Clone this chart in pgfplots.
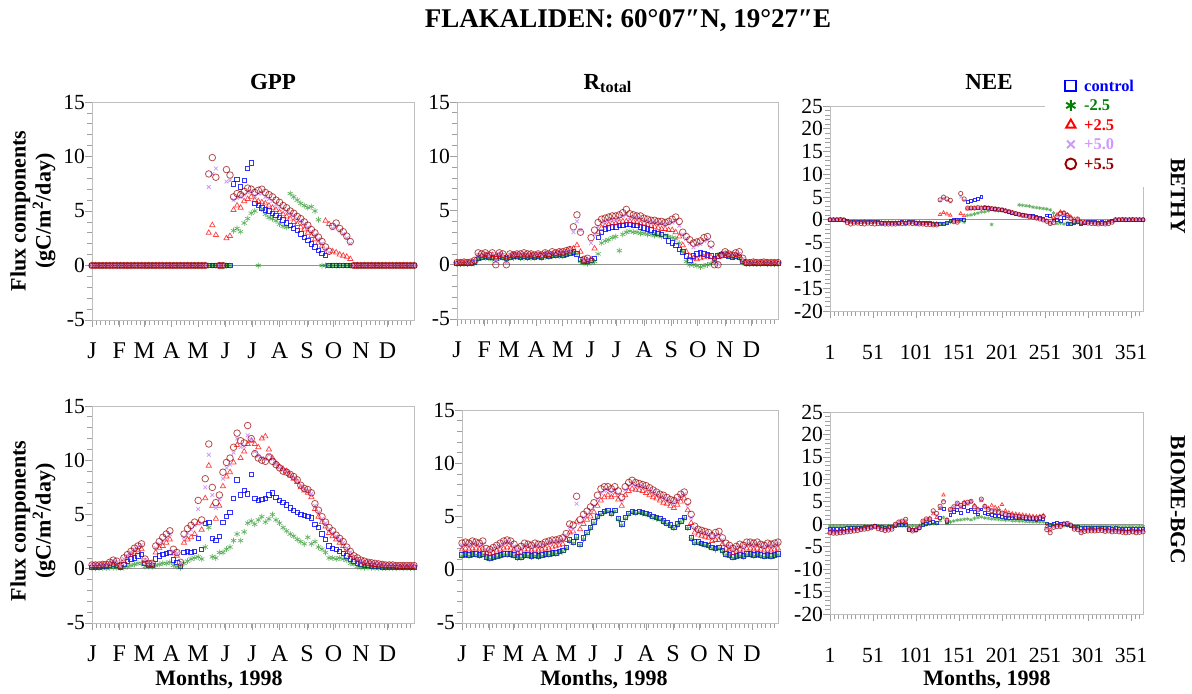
\documentclass[border=0pt]{standalone}
\usepackage{fontspec}
\setmainfont{Liberation Serif}
\usepackage{pgfplots}
\usepackage{pgfplotstable}
\pgfplotsset{compat=1.18}

\definecolor{ctrlblue}{RGB}{0,0,255}
\definecolor{coolgreen}{RGB}{0,128,0}
\definecolor{warmred}{RGB}{255,0,0}
\definecolor{lavenderx}{RGB}{204,153,255}
\definecolor{darkredo}{RGB}{153,0,0}

% d = day of year; c = control; m = -2.5; p = +2.5; q = +5.0; r = +5.5
\pgfplotstableread{
d c m p q r
1 0 0 0 0 0
5 0 0 0 0 0
9 0 0 0 0 0
13 0 0 0 0 0
17 0 0 0 0 0
21 0 0 0 0 0
25 0 0 0 0 0
29 0 0 0 0 0
33 0 0 0 0 0
37 0 0 0 0 0
41 0 0 0 0 0
45 0 0 0 0 0
49 0 0 0 0 0
53 0 0 0 0 0
57 0 0 0 0 0
61 0 0 0 0 0
65 0 0 0 0 0
69 0 0 0 0 0
73 0 0 0 0 0
77 0 0 0 0 0
81 0 0 0 0 0
85 0 0 0 0 0
89 0 0 0 0 0
93 0 0 0 0 0
97 0 0 0 0 0
101 0 0 0 0 0
105 0 0 0 0 0
109 0 0 0 0 0
113 0 0 0 0 0
117 0 0 0 0 0
121 0 0 0 0 0
125 0 0 0 0 0
129 0 0 0 0 0
133 0 0 3.0 7.2 8.4
137 0 0 3.7 8.4 9.9
141 0 0 2.8 8.9 8.1
145 0 0 0 0 0
149 0 0 0 0 0
153 0 0 2.5 7.7 8.8
157 0 0 2.7 7.8 8.3
161 7.5 3.2 5.1 6.0 6.3
165 7.9 3.4 5.5 6.2 6.6
169 7.2 3.1 5.3 6.3 6.5
173 7.8 3.9 5.9 6.5 6.8
177 8.9 4.3 6.1 6.7 7.1
181 9.4 4.8 6.3 6.8 7.0
185 5.7 5.0 6.0 6.4 6.7
189 5.5 0 5.9 6.6 6.9
193 5.3 5.2 5.8 6.6 7.0
197 5.1 4.7 5.7 6.3 6.7
201 5.0 4.4 5.5 6.1 6.5
205 4.8 4.3 5.3 5.9 6.3
209 4.6 4.1 5.1 5.6 6.0
213 4.4 3.8 4.9 5.4 5.8
217 4.2 3.6 4.7 5.2 5.5
221 3.9 3.5 4.5 5.0 5.3
225 3.7 6.6 4.3 4.8 5.0
229 3.4 6.3 4.0 4.6 4.8
233 3.2 6.0 3.8 4.3 4.5
237 2.9 5.7 3.5 4.1 4.3
241 2.6 5.5 3.3 3.8 4.0
245 2.3 5.3 3.0 3.5 3.7
249 2.0 5.4 2.7 3.1 3.3
253 1.7 5.0 2.4 2.8 3.0
257 1.4 4.2 2.1 2.4 2.6
261 1.1 0 1.8 2.0 2.2
265 0.9 0 4.1 1.5 1.7
269 0 0 3.8 1.2 1.3
273 0 0 1.3 3.4 3.6
277 0 0 1.2 3.6 3.9
281 0 0 1.0 3.2 3.4
285 0 0 0.9 2.9 3.1
289 0 0 0.8 2.5 2.7
293 0 0 0.6 2.0 2.2
297 0 0 0 0 0
301 0 0 0 0 0
305 0 0 0 0 0
309 0 0 0 0 0
313 0 0 0 0 0
317 0 0 0 0 0
321 0 0 0 0 0
325 0 0 0 0 0
329 0 0 0 0 0
333 0 0 0 0 0
337 0 0 0 0 0
341 0 0 0 0 0
345 0 0 0 0 0
349 0 0 0 0 0
353 0 0 0 0 0
357 0 0 0 0 0
361 0 0 0 0 0
365 0 0 0 0 0
}\gppbethy

\pgfplotstableread{
d c m p q r
1 0.1 0.05 0.15 0.15 0.2
5 0.1 0.05 0.15 0.2 0.2
9 0.15 0.05 0.2 0.2 0.25
13 0.1 0.05 0.15 0.15 0.2
17 0.15 0.1 0.2 0.2 0.25
21 0.2 0.1 0.3 0.3 0.4
25 0.6 0.5 0.8 0.9 1.1
29 0.7 0.6 0.8 0.9 1.0
33 0.8 0.6 0.9 1.0 1.1
37 0.7 0.6 0.8 0.8 0.9
41 0.7 0.5 0.9 1.0 1.1
45 0.6 0.5 0.7 0.3 0.0
49 0.8 0.6 0.9 1.0 1.1
53 0.7 0.6 0.8 0.9 1.0
57 0.6 0.5 0.7 0.2 0.0
61 0.7 0.6 0.8 0.9 1.0
65 0.8 0.6 0.9 0.9 0.9
69 0.8 0.7 0.9 1.0 1.0
73 0.7 0.6 0.8 0.9 1.0
77 0.8 0.6 0.9 1.0 1.1
81 0.7 0.6 0.8 0.9 1.0
85 0.8 0.6 0.9 0.9 1.0
89 0.7 0.6 0.8 0.9 0.9
93 0.8 0.7 0.9 1.0 1.0
97 0.7 0.6 0.8 0.8 0.9
101 0.9 0.7 1.0 1.0 1.1
105 0.8 0.7 0.9 1.0 1.0
109 0.9 0.8 1.0 1.1 1.2
113 0.9 0.8 1.0 1.0 1.1
117 1.0 0.8 1.1 1.1 1.2
121 0.9 0.8 1.0 1.2 1.2
125 1.0 0.9 1.2 1.2 1.3
129 1.1 1.0 1.4 1.3 1.4
133 1.2 1.1 1.5 3.0 3.5
137 1.0 1.0 1.8 4.0 4.6
141 0.5 0.3 1.2 3.2 3.0
145 0.3 0.1 0.4 0.4 0.5
149 0.3 0.1 0.4 0.5 0.6
153 0.4 0.2 0.5 2.0 2.5
157 0.6 0.3 1.5 2.8 3.2
161 2.5 1.0 3.0 3.5 3.9
165 3.0 2.0 3.4 3.9 4.2
169 3.3 2.2 3.6 4.0 4.3
173 3.4 2.3 3.7 4.1 4.4
177 3.5 2.5 3.8 4.2 4.5
181 3.5 2.6 3.8 4.2 4.5
185 3.6 1.3 3.9 4.3 4.6
189 3.6 2.8 4.0 4.5 4.8
193 3.7 3.0 4.0 4.6 5.1
197 3.7 3.1 4.0 4.4 4.7
201 3.6 3.0 4.0 4.4 4.6
205 3.6 3.0 3.9 4.3 4.5
209 3.5 2.9 3.8 4.2 4.5
213 3.4 2.9 3.8 4.1 4.3
217 3.3 2.8 3.7 4.0 4.2
221 3.2 2.8 3.6 3.9 4.1
225 3.0 2.7 3.5 3.9 4.1
229 2.9 2.7 3.4 3.8 4.0
233 2.8 2.6 3.3 3.8 4.0
237 2.6 2.7 3.3 3.7 3.9
241 2.2 2.6 3.2 3.8 4.0
245 2.0 2.5 3.2 3.9 4.2
249 1.8 2.4 3.0 4.0 4.4
253 1.4 2.0 2.6 3.6 4.0
257 1.2 1.2 1.8 2.8 3.0
261 0.8 0.3 1.2 2.4 2.6
265 0.4 0.0 0.8 2.0 2.3
269 0.8 0.0 0.6 1.6 2.0
273 1.0 -0.1 0.5 1.8 2.1
277 1.1 -0.2 0.6 1.9 2.2
281 1.0 -0.1 0.7 2.2 2.5
285 0.9 0.0 0.8 2.3 2.6
289 0.8 0.1 0.7 1.6 1.9
293 0.6 0.3 0.4 0.2 0.0
297 0.8 0.9 0.7 0.1 0.0
301 0.9 1.0 0.9 0.8 0.9
305 0.9 1.1 1.0 1.1 1.2
309 0.8 0.8 0.9 0.9 1.0
313 0.7 0.7 0.8 0.9 0.9
317 0.8 0.8 0.9 1.0 1.1
321 0.7 0.6 0.8 1.0 1.2
325 0.3 0.2 0.4 0.5 0.6
329 0.1 0.05 0.15 0.2 0.2
333 0.1 0.05 0.15 0.15 0.2
337 0.15 0.05 0.2 0.2 0.25
341 0.1 0.05 0.15 0.2 0.2
345 0.1 0.05 0.15 0.15 0.2
349 0.15 0.1 0.2 0.2 0.25
353 0.1 0.05 0.15 0.2 0.2
357 0.1 0.05 0.15 0.15 0.2
361 0.1 0.05 0.15 0.2 0.2
365 0.1 0.05 0.15 0.15 0.2
}\rtotbethy

\pgfplotstableread{
d c m p q r
1 0.05 0.05 0.05 0.05 0.05
5 0.05 0 0.05 0.05 0.05
9 0 0 0.05 0.05 0.05
13 0.05 0 0.05 0.05 0.1
17 0 0 0 0 0
21 -0.3 -0.2 -0.4 -0.5 -0.6
25 -0.5 -0.4 -0.6 -0.7 -0.9
29 -0.4 -0.3 -0.5 -0.6 -0.7
33 -0.5 -0.4 -0.6 -0.6 -0.7
37 -0.4 -0.4 -0.5 -0.6 -0.8
41 -0.5 -0.3 -0.6 -0.7 -0.9
45 -0.5 -0.4 -0.6 -0.6 -0.7
49 -0.4 -0.4 -0.5 -0.6 -0.8
53 -0.5 -0.4 -0.6 -0.7 -0.9
57 -0.5 -0.4 -0.6 -0.7 -0.8
61 -0.6 -0.5 -0.6 -0.7 -0.8
65 -0.6 -0.5 -0.7 -0.8 -0.9
69 -0.6 -0.5 -0.7 -0.8 -0.9
73 -0.7 -0.5 -0.8 -0.8 -0.9
77 -0.6 -0.5 -0.7 -0.8 -0.9
81 -0.6 -0.5 -0.7 -0.7 -0.8
85 -0.5 -0.5 -0.6 -0.7 -0.8
89 -0.6 -0.5 -0.6 -0.7 -0.8
93 -0.5 -0.4 -0.6 -0.6 -0.7
97 -0.5 -0.4 -0.6 -0.7 -0.8
101 -0.6 -0.5 -0.7 -0.7 -0.8
105 -0.6 -0.5 -0.7 -0.8 -0.9
109 -0.7 -0.6 -0.8 -0.8 -0.9
113 -0.7 -0.6 -0.8 -0.9 -1.0
117 -0.7 -0.6 -0.8 -0.9 -1.0
121 -0.8 -0.7 -0.9 -1.0 -1.1
125 -0.8 -0.7 -0.9 -1.0 -1.1
129 -0.8 -0.8 1.2 4.2 4.4
133 -0.9 -0.9 1.6 4.8 5.0
137 -0.6 -0.7 1.3 4.3 4.6
141 -0.3 -0.5 1.0 3.9 4.3
145 0.0 -0.3 -0.2 -0.3 -0.4
149 0.0 -0.2 -0.3 -0.2 -0.5
153 0.1 -0.2 1.4 5.0 5.8
157 0.0 -0.5 0.9 4.3 4.6
161 4.0 1.0 2.4 2.5 2.6
165 4.2 1.1 2.5 2.6 2.6
169 4.4 1.3 2.5 2.5 2.6
173 4.7 1.5 2.5 2.6 2.7
177 5.0 1.7 2.6 2.6 2.6
181 2.6 1.8 2.6 2.6 2.7
185 2.6 2.0 2.5 2.5 2.6
189 2.5 -1.0 2.4 2.5 2.5
193 2.4 2.0 2.4 2.4 2.4
197 2.3 2.0 2.3 2.3 2.3
201 2.2 2.0 2.2 2.2 2.2
205 2.0 1.9 2.0 2.0 2.0
209 1.8 1.8 1.8 1.8 1.8
213 1.6 1.6 1.6 1.6 1.6
217 1.4 1.4 1.4 1.4 1.4
221 1.2 3.3 1.2 1.2 1.2
225 1.1 3.2 1.0 1.0 1.0
229 1.0 3.1 0.9 0.9 0.9
233 0.9 3.0 0.8 0.7 0.7
237 0.8 2.8 0.6 0.6 0.6
241 0.6 2.7 0.5 0.4 0.4
245 0.5 2.6 0.3 0.2 0.2
249 0.3 2.5 0.1 0.0 0.0
253 1.0 2.4 -0.2 -0.3 -0.3
257 0.8 2.2 -0.6 -0.8 -0.8
261 -0.1 1.5 0.5 -0.5 -0.6
265 0.0 -0.8 1.2 0.8 0.7
269 -0.2 -0.7 1.8 1.0 1.4
273 0.5 -0.9 1.6 1.2 1.5
277 -0.8 -0.6 1.2 0.6 1.0
281 -0.9 -0.8 0.7 0.1 0.3
285 -0.6 -0.7 0.2 -0.3 -0.4
289 -0.4 -0.6 0.1 0.0 0.2
293 -0.8 -0.8 -0.4 -0.5 -0.6
297 -0.6 -0.5 -0.5 -0.5 -0.6
301 -0.5 -0.5 -0.5 -0.6 -0.7
305 -0.5 -0.4 -0.6 -0.7 -0.8
309 -0.5 -0.5 -0.7 -0.7 -0.8
313 -0.6 -0.5 -0.7 -0.8 -0.9
317 -0.5 -0.5 -0.7 -0.7 -0.8
321 -0.6 -0.5 -0.7 -0.8 -0.9
325 -0.5 -0.5 -0.6 -0.7 -0.8
329 -0.3 -0.2 -0.4 -0.4 -0.5
333 0 0 0.05 0.05 0.05
337 0.05 0 0.05 0.05 0.05
341 0 0 0.05 0.05 0.1
345 0.05 0 0.05 0.05 0.05
349 0 0 0.05 0.05 0.05
353 0.05 0 0.05 0.05 0.1
357 0 0 0.05 0.05 0.05
361 0.05 0 0.05 0.05 0.05
365 0 0 0.05 0.05 0.05
}\neebethy

\pgfplotstableread{
d c m p q r
1 0.15 0.05 0.25 0.3 0.35
5 0.15 0.05 0.25 0.3 0.35
9 0.15 0.05 0.25 0.3 0.35
13 0.2 0.05 0.3 0.35 0.4
17 0.2 0.05 0.3 0.35 0.4
21 0.3 0.1 0.45 0.55 0.6
25 0.4 0.1 0.55 0.7 0.8
29 0.3 0.1 0.45 0.6 0.7
33 0.1 0.05 0.2 0.25 0.3
37 0.4 0.1 0.7 0.9 1.0
41 0.7 0.2 1.0 1.2 1.3
45 0.9 0.3 1.3 1.5 1.6
49 1.0 0.4 1.5 1.8 1.9
53 1.2 0.5 1.7 2.0 2.1
57 1.3 0.5 1.8 2.2 2.3
61 0.5 0.2 0.7 0.8 0.9
65 0.3 0.2 0.4 0.5 0.5
69 0.3 0.2 0.4 0.5 0.5
73 0.9 0.3 1.5 1.9 2.1
77 1.2 0.4 1.9 2.3 2.5
81 1.3 0.5 2.1 2.6 2.9
85 1.4 0.5 2.4 2.9 3.2
89 1.5 0.6 2.7 3.2 3.5
93 0.8 0.3 1.4 1.6 1.8
97 0.6 0.2 1.2 1.4 1.5
101 0.2 0.1 0.4 0.5 0.6
105 1.5 0.5 2.4 2.9 3.2
109 1.6 0.7 2.7 3.3 3.7
113 1.5 0.9 2.9 3.6 4.0
117 1.6 1.0 3.2 4.0 4.3
121 2.8 1.1 4.2 5.5 6.3
125 1.8 0.9 3.6 4.2 4.5
129 4.2 2.0 6.5 7.5 8.3
133 4.3 3.8 9.5 10.5 11.5
137 2.8 1.1 5.8 6.8 7.5
141 2.6 1.0 4.6 5.6 6.1
145 3.0 1.5 5.8 6.4 6.8
149 4.3 1.5 7.6 8.3 8.9
153 4.8 1.8 8.5 9.3 9.8
157 5.2 2.0 8.9 9.6 10.2
161 6.5 2.6 9.8 10.7 11.2
165 8.2 3.2 11.4 12.0 12.5
169 6.8 2.6 10.2 11.2 11.8
173 7.2 3.4 10.8 11.3 11.6
177 6.9 4.2 11.5 12.3 13.2
181 8.7 4.4 11.8 11.9 12.0
185 6.5 4.1 11.5 10.8 10.6
189 6.3 4.5 11.2 10.4 10.2
193 6.4 4.8 12.0 10.2 10.0
197 6.5 4.3 12.2 10.1 9.9
201 6.8 4.6 11.0 10.5 10.3
205 7.0 5.0 10.2 10.1 9.9
209 6.6 4.5 9.7 9.7 9.6
213 6.3 4.2 9.4 9.3 9.3
217 6.1 3.8 9.2 9.1 9.0
221 5.9 3.5 9.0 8.9 8.9
225 5.6 3.2 8.6 8.6 8.7
229 5.4 3.0 8.3 8.4 8.5
233 5.2 2.7 8.0 8.1 8.2
237 5.0 2.5 7.5 7.6 7.7
241 4.9 2.3 7.2 7.3 7.4
245 4.8 2.9 7.0 7.2 7.3
249 4.7 2.3 6.6 6.9 7.0
253 4.1 2.5 5.5 5.8 6.0
257 3.8 2.0 4.8 5.2 5.4
261 3.2 1.8 4.3 4.6 4.8
265 2.7 1.5 3.9 4.2 4.3
269 2.1 1.0 3.3 3.6 3.8
273 1.9 1.0 3.0 3.3 3.5
277 1.8 0.9 2.7 3.0 3.1
281 1.6 1.0 2.4 2.7 2.8
285 1.4 0.9 2.1 2.4 2.5
289 1.2 0.8 1.7 1.9 2.0
293 0.9 0.5 1.3 1.5 1.6
297 0.7 0.4 1.0 1.1 1.2
301 0.5 0.2 0.8 0.9 1.0
305 0.4 0.1 0.6 0.7 0.8
309 0.3 0.1 0.5 0.6 0.7
313 0.3 0.1 0.5 0.5 0.6
317 0.25 0.1 0.4 0.5 0.55
321 0.2 0.05 0.35 0.45 0.5
325 0.2 0.05 0.3 0.4 0.45
329 0.15 0.05 0.3 0.35 0.4
333 0.15 0.05 0.25 0.3 0.35
337 0.15 0.05 0.25 0.3 0.35
341 0.15 0.05 0.25 0.3 0.35
345 0.15 0.05 0.2 0.3 0.3
349 0.15 0.05 0.2 0.25 0.3
353 0.1 0.05 0.2 0.25 0.3
357 0.1 0.05 0.2 0.25 0.3
361 0.1 0.05 0.2 0.25 0.3
365 0.1 0.05 0.2 0.25 0.3
}\gppbiome

\pgfplotstableread{
d c m p q r
1 1.4 1.3 1.9 2.3 2.5
5 1.5 1.4 2.0 2.4 2.6
9 1.4 1.3 1.9 2.3 2.5
13 1.5 1.4 2.0 2.5 2.7
17 1.5 1.4 2.0 2.4 2.6
21 1.4 1.3 1.9 2.3 2.5
25 1.5 1.4 2.0 2.4 2.7
29 1.2 1.1 1.6 1.9 2.0
33 1.1 1.0 1.5 1.8 1.9
37 1.2 1.1 1.6 2.0 2.1
41 1.3 1.2 1.8 2.1 2.3
45 1.4 1.3 1.9 2.3 2.5
49 1.5 1.4 2.0 2.5 2.7
53 1.5 1.4 2.1 2.6 2.8
57 1.5 1.4 2.0 2.5 2.7
61 1.4 1.3 1.9 2.2 2.4
65 1.2 1.1 1.6 1.9 2.0
69 1.2 1.1 1.7 2.0 2.2
73 1.4 1.3 1.9 2.3 2.5
77 1.4 1.3 1.9 2.3 2.4
81 1.3 1.2 1.8 2.1 2.3
85 1.4 1.3 1.9 2.3 2.5
89 1.3 1.2 1.8 2.2 2.4
93 1.4 1.3 1.9 2.3 2.4
97 1.5 1.4 2.0 2.4 2.6
101 1.5 1.4 2.0 2.5 2.7
105 1.6 1.5 2.1 2.6 2.8
109 1.6 1.5 2.2 2.6 2.8
113 1.7 1.6 2.3 2.7 2.9
117 1.8 1.7 2.4 2.8 3.0
121 2.1 2.0 2.8 3.2 3.4
125 2.8 2.7 3.5 4.0 4.3
129 2.6 2.5 3.6 3.8 4.2
133 3.1 3.0 4.5 6.2 6.9
137 2.4 2.3 3.8 4.4 4.7
141 3.0 2.9 4.3 4.9 5.2
145 3.5 3.4 4.7 5.2 5.5
149 4.0 3.9 5.0 5.6 5.9
153 4.5 4.4 5.4 6.0 6.3
157 5.0 4.9 6.0 6.6 7.0
161 5.3 5.2 6.5 7.2 7.6
165 5.5 5.4 6.8 7.4 7.8
169 5.6 5.5 7.0 7.5 7.8
173 5.3 5.2 6.8 7.3 7.6
177 5.6 5.5 7.0 7.5 7.8
181 4.8 4.7 6.6 7.1 7.4
185 4.3 4.2 6.0 6.5 6.8
189 4.9 4.8 7.0 7.5 7.8
193 5.3 5.2 7.4 7.9 8.2
197 5.5 5.4 7.6 8.1 8.4
201 5.4 5.3 7.5 7.9 8.2
205 5.5 5.4 7.5 7.9 8.1
209 5.4 5.3 7.4 7.8 8.0
213 5.3 5.2 7.2 7.7 7.9
217 5.2 5.1 7.0 7.5 7.7
221 5.0 4.9 6.8 7.3 7.5
225 4.9 4.8 6.7 7.1 7.3
229 4.8 4.7 6.5 6.9 7.1
233 4.6 4.5 6.3 6.8 7.0
237 4.4 4.3 6.2 6.6 6.8
241 4.2 4.1 6.0 6.4 6.6
245 4.0 3.9 5.8 6.3 6.5
249 4.3 4.2 6.1 6.6 6.8
253 4.6 4.5 6.4 6.9 7.1
257 4.9 4.8 6.7 7.1 7.3
261 4.0 3.9 5.6 6.1 6.4
265 3.0 2.9 4.4 4.9 5.2
269 2.6 2.5 3.5 3.9 4.1
273 2.6 2.5 3.3 3.6 3.8
277 2.5 2.4 3.2 3.5 3.7
281 2.4 2.3 3.1 3.4 3.6
285 2.3 2.2 3.0 3.3 3.5
289 2.1 2.0 2.7 3.0 3.2
293 2.0 1.9 2.8 3.2 3.5
297 2.1 2.0 2.8 3.3 3.6
301 1.8 1.7 2.4 2.8 3.0
305 1.5 1.4 2.0 2.3 2.5
309 1.4 1.3 1.9 2.2 2.3
313 1.2 1.1 1.6 1.9 2.0
317 1.3 1.2 1.8 2.1 2.2
321 1.4 1.3 1.9 2.2 2.4
325 1.3 1.2 1.8 2.1 2.3
329 1.5 1.4 2.0 2.4 2.6
333 1.5 1.4 2.0 2.4 2.6
337 1.4 1.3 1.9 2.3 2.5
341 1.5 1.4 2.0 2.4 2.6
345 1.4 1.3 1.9 2.3 2.4
349 1.3 1.2 1.8 2.1 2.3
353 1.4 1.3 1.9 2.3 2.5
357 1.3 1.2 1.8 2.2 2.4
361 1.4 1.3 1.9 2.3 2.5
365 1.5 1.4 2.0 2.4 2.6
}\rtotbiome

\pgfplotstableread{
d c m p q r
1 -1.0 -0.4 -1.6 -1.8 -1.9
5 -1.1 -0.4 -1.7 -1.9 -2.0
9 -1.1 -0.4 -1.7 -1.9 -2.0
13 -1.0 -0.4 -1.6 -1.8 -1.9
17 -1.0 -0.4 -1.5 -1.7 -1.8
21 -0.9 -0.4 -1.4 -1.6 -1.7
25 -0.9 -0.4 -1.3 -1.5 -1.6
29 -0.8 -0.4 -1.2 -1.4 -1.5
33 -0.8 -0.4 -1.1 -1.3 -1.4
37 -0.7 -0.4 -1.0 -1.2 -1.2
41 -0.6 -0.4 -0.9 -1.0 -1.1
45 -0.6 -0.4 -0.8 -0.9 -1.0
49 -0.5 -0.4 -0.6 -0.7 -0.8
53 -0.4 -0.4 -0.4 -0.5 -0.5
57 -0.5 -0.4 -0.7 -0.9 -1.0
61 -0.6 -0.4 -1.0 -1.1 -1.2
65 -0.7 -0.4 -1.1 -1.3 -1.4
69 -0.6 -0.4 -1.0 -1.2 -1.3
73 -0.5 -0.4 -0.8 -1.0 -1.1
77 -0.3 -0.4 -0.2 -0.1 0.0
81 -0.2 -0.4 0.3 0.5 0.5
85 -0.2 -0.4 0.4 0.6 0.7
89 -0.1 -0.4 0.6 0.9 1.1
93 -1.2 -0.4 -1.0 -1.0 -1.1
97 -1.3 -0.4 -1.2 -1.4 -1.5
101 -1.2 -0.4 -1.1 -1.2 -1.3
105 -0.8 -0.3 -0.6 -0.7 -0.8
109 -0.2 -0.2 0.5 0.6 0.7
113 0.0 -0.1 0.9 1.1 1.2
117 0.3 0.0 1.3 1.3 1.2
121 0.5 0.1 2.3 2.7 3.0
125 0.3 0.1 1.5 2.0 2.4
129 1.5 0.8 3.5 3.8 4.0
133 3.5 1.5 6.5 5.3 5.0
137 0.5 0.2 1.0 1.0 0.9
141 2.0 0.5 3.0 3.2 3.3
145 2.8 0.7 3.6 3.8 3.9
149 3.2 0.9 4.4 4.6 4.7
153 2.5 1.0 3.8 4.0 4.2
157 3.8 1.1 4.9 4.8 4.7
161 3.0 1.2 4.5 4.7 4.9
165 3.3 1.0 5.0 5.0 5.1
169 2.8 1.3 4.2 4.0 3.9
173 2.2 1.5 3.4 3.3 3.2
177 3.3 1.6 5.2 5.4 5.6
181 2.5 1.4 4.0 4.0 4.0
185 2.2 1.3 3.6 3.4 3.3
189 2.0 1.2 4.2 3.2 3.0
193 1.8 1.1 3.8 3.0 2.8
197 1.8 1.1 3.5 2.9 2.7
201 1.6 1.0 4.4 2.6 2.5
205 1.5 0.9 3.0 2.3 2.2
209 1.5 0.9 2.6 2.1 2.0
213 1.4 0.8 2.4 2.0 1.9
217 1.4 0.8 2.3 1.9 1.8
221 1.3 0.7 2.2 1.8 1.7
225 1.3 0.7 2.1 1.7 1.6
229 1.2 0.6 2.0 1.6 1.5
233 1.1 0.6 1.9 1.5 1.4
237 1.1 0.5 1.8 1.5 1.4
241 1.0 0.5 1.7 1.4 1.3
245 1.1 0.5 1.8 1.6 1.5
249 1.2 0.5 2.0 1.8 1.7
253 0.2 0.1 -0.5 -1.0 -1.2
257 -0.2 -0.2 -1.2 -1.6 -1.9
261 0.0 -0.2 -0.4 -0.6 -0.7
265 0.3 -0.2 -0.2 -0.4 -0.5
269 0.0 -0.3 -0.3 -0.4 -0.5
273 0.0 -0.3 0.0 0.1 0.1
277 -0.1 -0.3 0.1 0.2 0.2
281 -0.3 -0.4 -0.2 -0.2 -0.2
285 -0.6 -0.4 -0.9 -1.0 -1.1
289 -0.6 -0.4 -1.0 -1.1 -1.2
293 -0.9 -0.5 -1.5 -1.8 -1.9
297 -0.8 -0.5 -1.3 -1.5 -1.6
301 -0.8 -0.5 -1.2 -1.4 -1.5
305 -0.8 -0.5 -1.2 -1.4 -1.5
309 -0.9 -0.5 -1.3 -1.4 -1.5
313 -0.8 -0.5 -1.2 -1.3 -1.4
317 -0.8 -0.5 -1.1 -1.3 -1.4
321 -0.9 -0.5 -1.3 -1.5 -1.6
325 -0.9 -0.5 -1.3 -1.4 -1.5
329 -1.0 -0.5 -1.4 -1.6 -1.7
333 -0.9 -0.5 -1.3 -1.5 -1.6
337 -1.0 -0.5 -1.4 -1.6 -1.7
341 -1.0 -0.5 -1.5 -1.7 -1.8
345 -1.1 -0.5 -1.6 -1.8 -1.9
349 -1.0 -0.5 -1.5 -1.7 -1.8
353 -1.0 -0.5 -1.4 -1.6 -1.7
357 -1.1 -0.5 -1.5 -1.8 -1.9
361 -1.0 -0.5 -1.5 -1.7 -1.8
365 -1.0 -0.5 -1.4 -1.6 -1.7
}\neebiome

\pgfplotsset{
  s ctrl/.style={only marks, mark=square, color=ctrlblue, mark size=#1*1.1pt,
    mark options={line width=0.4pt, draw opacity=0.8}},
  s ctrl/.default=1,
  s m25/.style={only marks, mark=asterisk, color=coolgreen, mark size=#1*1.5pt,
    mark options={line width=0.35pt, draw opacity=0.6}},
  s m25/.default=1,
  s p25/.style={only marks, mark=triangle, color=warmred, mark size=#1*1.5pt,
    mark options={line width=0.35pt, draw opacity=0.75}},
  s p25/.default=1,
  s p50/.style={only marks, mark=x, color=lavenderx, mark size=#1*1.3pt,
    mark options={line width=0.4pt}},
  s p50/.default=1,
  s p55/.style={only marks, mark=o, color=darkredo, mark size=#1*1.65pt,
    mark options={line width=0.4pt, draw opacity=0.7}},
  s p55/.default=1,
  panel/.style={scale only axis, anchor=south west, xmin=1, xmax=365,
    axis line style={gray!50}, tick style={gray!75, line width=0.4pt},
    tick align=outside, major tick length=3.5pt, minor tick length=2.5pt,
    xtick pos=left, ytick pos=left,
    yticklabel style={font=\fontsize{10.8}{11}\selectfont, xshift=3.5pt},
    /pgf/number format/assume math mode=true,
    minor xtick={6,11,...,361}},
  monthpanel/.style={panel, ymin=-5, ymax=15, ytick={-5,0,5,10,15},
    minor ytick={-4,-3,...,14},
    xtick={1,32,60,91,121,152,182,213,244,274,305,335},
    xticklabels={J,F,M,A,M,J,J,A,S,O,N,D},
    xticklabel style={font=\fontsize{12}{12}\selectfont, yshift=-4.3pt}},
  neepanel/.style={panel, ymin=-20, ymax=25, ytick={-20,-15,...,25},
    minor ytick={-19,-18,...,24}, xtick={1,51,...,351},
    xticklabel style={font=\fontsize{10.8}{11}\selectfont, yshift=-10pt}},
}

\newcommand{\zeroline}{\addplot[gray!85, line width=0.6pt, forget plot] coordinates {(1,0) (365,0)};}
\newcommand{\fluxseries}[2]{%
  \addplot[s ctrl=#2] table[x=d,y=c]{#1};
  \addplot[s m25=#2] table[x=d,y=m]{#1};
  \addplot[s p25=#2] table[x=d,y=p]{#1};
  \addplot[s p50=#2] table[x=d,y=q]{#1};
  \addplot[s p55=#2] table[x=d,y=r]{#1};
}

\begin{document}
\begin{tikzpicture}
\useasboundingbox (0pt,0pt) rectangle (596pt,346.5pt);

% ---- BETHY row ----
\begin{axis}[monthpanel, at={(46pt,186.5pt)}, width=161pt, height=109pt]
  \zeroline
  \fluxseries{\gppbethy}{1}
\end{axis}
\begin{axis}[monthpanel, at={(228.5pt,187pt)}, width=160.5pt, height=108.5pt]
  \zeroline
  \fluxseries{\rtotbethy}{1}
\end{axis}
\begin{axis}[neepanel, at={(415pt,191pt)}, width=156.5pt, height=102.5pt]
  \zeroline
  \fluxseries{\neebethy}{0.65}
\end{axis}

% ---- BIOME-BGC row ----
\begin{axis}[monthpanel, at={(46pt,35pt)}, width=161pt, height=108.5pt]
  \zeroline
  \fluxseries{\gppbiome}{1}
\end{axis}
\begin{axis}[monthpanel, at={(231pt,35pt)}, width=158pt, height=106.5pt]
  \zeroline
  \fluxseries{\rtotbiome}{1}
\end{axis}
\begin{axis}[neepanel, at={(415pt,39.5pt)}, width=156.5pt, height=101pt]
  \zeroline
  \fluxseries{\neebiome}{0.65}
\end{axis}

% white field behind the legend
\fill[white] (522.5pt,253pt) rectangle (575pt,312pt);

% legend
\begin{axis}[hide axis, scale only axis, width=2pt, height=2pt,
  at={(532.5pt,307.5pt)}, anchor=south west, xmin=0, xmax=1, ymin=0, ymax=1,
  legend style={at={(0,0)}, anchor=north west, draw=none, fill=none,
    inner sep=0pt, font=\fontsize{8.2}{9}\selectfont\bfseries, row sep=2.25pt,
    nodes={inner sep=0.5pt, text height=6pt, text depth=0.5pt},
    cells={anchor=west},
    /tikz/every odd column/.append style={column sep=3.5pt}},
  legend image code/.code={\draw[#1, mark size=2.7pt,
    mark options={line width=0.95pt, draw opacity=1}] plot coordinates {(0pt,0pt)};}]
  \addlegendimage{s ctrl}\addlegendentry{\textcolor{ctrlblue}{control}}
  \addlegendimage{s m25}\addlegendentry{\textcolor{coolgreen}{-2.5}}
  \addlegendimage{s p25}\addlegendentry{\textcolor{warmred}{+2.5}}
  \addlegendimage{s p50}\addlegendentry{\textcolor{lavenderx}{+5.0}}
  \addlegendimage{s p55}\addlegendentry{\textcolor{darkredo}{+5.5}}
\end{axis}

% titles and labels
\node[anchor=base, font=\fontsize{13.5}{14}\selectfont\bfseries] at (314pt,333pt)
  {FLAKALIDEN: 60°07″N, 19°27″E};
\node[anchor=base, font=\fontsize{11.5}{12}\selectfont\bfseries] at (136.5pt,302pt) {GPP};
\node[anchor=base, font=\fontsize{11.5}{12}\selectfont\bfseries] at (304pt,302pt)
  {R\textsubscript{total}};
\node[anchor=base, font=\fontsize{11.5}{12}\selectfont\bfseries] at (494.5pt,302pt) {NEE};
\node[rotate=90, align=center, font=\fontsize{11}{12.5}\selectfont\bfseries] at (16.5pt,241pt)
  {Flux components\\(gC/m\textsuperscript{2}/day)};
\node[rotate=90, align=center, font=\fontsize{11}{12.5}\selectfont\bfseries] at (16.5pt,86pt)
  {Flux components\\(gC/m\textsuperscript{2}/day)};
\node[rotate=-90, font=\fontsize{10.8}{11}\selectfont\bfseries] at (589pt,248.5pt) {BETHY};
\node[rotate=-90, font=\fontsize{10.8}{11}\selectfont\bfseries] at (589pt,96.5pt) {BIOME-BGC};
\node[anchor=base, font=\fontsize{11}{12}\selectfont\bfseries] at (109.5pt,4pt) {Months, 1998};
\node[anchor=base, font=\fontsize{11}{12}\selectfont\bfseries] at (302pt,4pt) {Months, 1998};
\node[anchor=base, font=\fontsize{11}{12}\selectfont\bfseries] at (493.5pt,4pt) {Months, 1998};
\end{tikzpicture}
\end{document}
